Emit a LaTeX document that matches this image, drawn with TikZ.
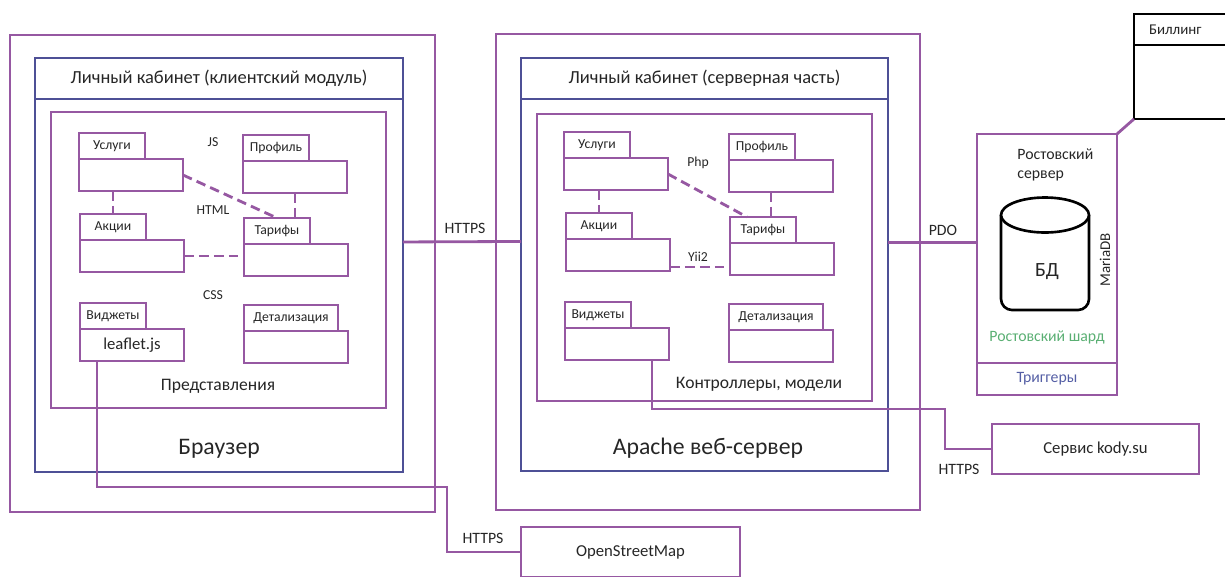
\documentclass[tikz,border=0pt]{standalone}
\usepackage{fontspec}
\setmainfont{Carlito}

\definecolor{umlpurple}{RGB}{150,88,162}
\definecolor{umlblue}{RGB}{78,80,150}
\definecolor{shardgreen}{RGB}{90,175,115}
\definecolor{trigblue}{RGB}{85,95,165}

\tikzset{
  pbox/.style={draw=umlpurple, line width=1.6pt, inner sep=0pt, outer sep=0pt, anchor=north west},
  bbox/.style={pbox, draw=umlblue},
  kbox/.style={pbox, draw=black},
  tabbox/.style={pbox, minimum width=1.32cm, minimum height=0.52cm, font=\fontsize{7.8}{9}\selectfont},
  bodybox/.style={pbox, minimum width=2.08cm, minimum height=0.64cm, font=\fontsize{9.5}{11}\selectfont},
  dep/.style={umlpurple, line width=1.6pt, dash pattern=on 5.5pt off 3pt},
  link/.style={umlpurple, line width=1.6pt},
  lbl/.style={font=\fontsize{7.8}{9}\selectfont},
}

\begin{document}
\begin{tikzpicture}[x=0.02cm, y=-0.02cm, text=black!85]
    \useasboundingbox (0,0) rectangle (1225,576);

    % Браузер
    \node[pbox, minimum width=8.5cm, minimum height=9.54cm] (brwOuter) at (10,35) {};
    \node[bbox, minimum width=7.36cm, minimum height=8.28cm] (brwBlue) at (35,58) {};
    \node[bbox, minimum width=7.36cm, minimum height=0.82cm, font=\fontsize{10.5}{12}\selectfont] (brwHead) at (35,58) {Личный кабинет (клиентский модуль)};
    \node[pbox, minimum width=6.7cm, minimum height=5.92cm] (brwInner) at (51,112) {};
    \node[font=\fontsize{13.5}{15}\selectfont] (brwName) at (219,449) {Браузер};
    \node[font=\fontsize{10}{12}\selectfont] (brwViews) at (218,386) {Представления};

    \node[tabbox] (lUsl) at (79,133) {Услуги};
    \node[bodybox] (lUslB) at (lUsl.south west) {};
    \node[tabbox] (lProf) at (243,135) {Профиль};
    \node[bodybox] (lProfB) at (lProf.south west) {};
    \node[tabbox] (lAkc) at (80,214) {Акции};
    \node[bodybox] (lAkcB) at (lAkc.south west) {};
    \node[tabbox] (lTar) at (244,218) {Тарифы};
    \node[bodybox] (lTarB) at (lTar.south west) {};
    \node[tabbox] (lVid) at (80,303) {Виджеты};
    \node[bodybox] (lVidB) at (lVid.south west) {leaflet.js};
    \node[tabbox, minimum width=1.88cm] (lDet) at (244,305) {Детализация};
    \node[bodybox] (lDetB) at (lDet.south west) {};

    \node[lbl] (js) at (213,142) {JS};
    \node[lbl] (html) at (213,210) {HTML};
    \node[lbl] (css) at (213,295) {CSS};

    \draw[dep] (lUslB.east) -- (lTar.north);
    \draw[dep] (lAkc.north |- lUslB.south) -- (lAkc.north);
    \draw[dep] (lProfB.south) -- (lProfB.south |- lTar.north);
    \draw[dep] (lAkcB.east) -- (lAkcB.east -| lTarB.west);

    % Apache
    \node[pbox, minimum width=8.48cm, minimum height=9.52cm] (srvOuter) at (496,34) {};
    \node[bbox, minimum width=7.34cm, minimum height=8.26cm] (srvBlue) at (521,58) {};
    \node[bbox, minimum width=7.34cm, minimum height=0.82cm, font=\fontsize{10.5}{12}\selectfont] (srvHead) at (521,58) {Личный кабинет (серверная часть)};
    \node[pbox, minimum width=6.7cm, minimum height=5.74cm] (srvInner) at (537,114) {};
    \node[font=\fontsize{13.5}{15}\selectfont] (srvName) at (708,448) {Apache веб-сервер};
    \node[font=\fontsize{10}{12}\selectfont] (srvCtrl) at (759,384) {Контроллеры, модели};

    \node[tabbox] (mUsl) at (564,132) {Услуги};
    \node[bodybox] (mUslB) at (mUsl.south west) {};
    \node[tabbox] (mProf) at (729,134) {Профиль};
    \node[bodybox] (mProfB) at (mProf.south west) {};
    \node[tabbox] (mAkc) at (566,213) {Акции};
    \node[bodybox] (mAkcB) at (mAkc.south west) {};
    \node[tabbox] (mTar) at (730,217) {Тарифы};
    \node[bodybox] (mTarB) at (mTar.south west) {};
    \node[tabbox] (mVid) at (565,302) {Виджеты};
    \node[bodybox] (mVidB) at (mVid.south west) {};
    \node[tabbox, minimum width=1.88cm] (mDet) at (729,304) {Детализация};
    \node[bodybox] (mDetB) at (mDet.south west) {};

    \node[lbl] (php) at (698,163) {Php};
    \node[lbl] (yii) at (698,257) {Yii2};

    \draw[dep] (mUslB.east) -- ([xshift=-0.32cm]mTar.north);
    \draw[dep] (mAkc.north |- mUslB.south) -- (mAkc.north);
    \draw[dep] ([xshift=-0.2cm]mProfB.south) -- ([xshift=-0.2cm]mProfB.south |- mTar.north);
    \draw[dep] ([yshift=0.08cm]mAkcB.south east) -- ([yshift=0.08cm]mAkcB.south east -| mTarB.west);

    % Ростов
    \node[pbox, minimum width=2.8cm, minimum height=4.58cm] (rostov) at (977,134) {};
    \node[pbox, minimum width=2.8cm, minimum height=0.64cm, text=trigblue, font=\fontsize{9}{11}\selectfont] (trig) at (977,363) {Триггеры};
    \node[anchor=north west, align=left, inner sep=0pt, font=\fontsize{9}{11}\selectfont] (rostovName) at (1017,148) {Ростовский\\сервер};
    \node[text=shardgreen, font=\fontsize{9}{11}\selectfont] (shard) at (1047,337) {Ростовский шард};
    \draw[black, line width=1.5pt, rounded corners=0.22cm] (1001,215) -- (1001,310) -- (1089,310) -- (1089,215);
    \draw[black, line width=1.5pt, fill=white] (1045,215) ellipse (0.88cm and 0.35cm);
    \node[font=\fontsize{11.5}{13}\selectfont] (db) at (1047,272) {БД};
    \node[rotate=90, font=\fontsize{8.5}{10}\selectfont] (maria) at (1105,260) {MariaDB};

    % Биллинг
    \node[kbox, minimum width=4cm, minimum height=0.62cm, text width=3.8cm, align=left, font=\fontsize{8.5}{10}\selectfont] (billHead) at (1134,14) {\hspace*{0.2cm}Биллинг};
    \node[kbox, minimum width=4cm, minimum height=1.48cm] (billBody) at (billHead.south west) {};

    % внешние сервисы
    \node[pbox, minimum width=4.14cm, minimum height=1cm, font=\fontsize{9.5}{11}\selectfont] (kody) at (992,424) {Сервис kody.su};
    \node[pbox, minimum width=4.38cm, minimum height=1cm, font=\fontsize{9.5}{11}\selectfont] (osm) at (521,527) {OpenStreetMap};

    \coordinate (kbend) at (945,409);
    \coordinate (obend) at (447,487);

    \draw[link] ([yshift=0.46cm]brwBlue.east) -- ([yshift=0.46cm]srvBlue.west);
    \draw[link] ([yshift=0.44cm]srvBlue.east) -- ([yshift=0.44cm]srvBlue.east -| rostov.west);
    \draw[link] (rostov.north east) -- (billBody.south west);
    \draw[link] ([xshift=0.7cm]mVidB.south) |- (kbend) |- (kody.west);
    \draw[link] ([xshift=-0.7cm]lVidB.south) |- (obend) |- (osm.west);

    \node[font=\fontsize{9}{11}\selectfont] (https1) at (465,228) {HTTPS};
    \node[font=\fontsize{9}{11}\selectfont] (pdo) at (943,230) {PDO};
    \node[font=\fontsize{9}{11}\selectfont] (https2) at (959,469) {HTTPS};
    \node[font=\fontsize{9}{11}\selectfont] (https3) at (483,538) {HTTPS};
\end{tikzpicture}
\end{document}
